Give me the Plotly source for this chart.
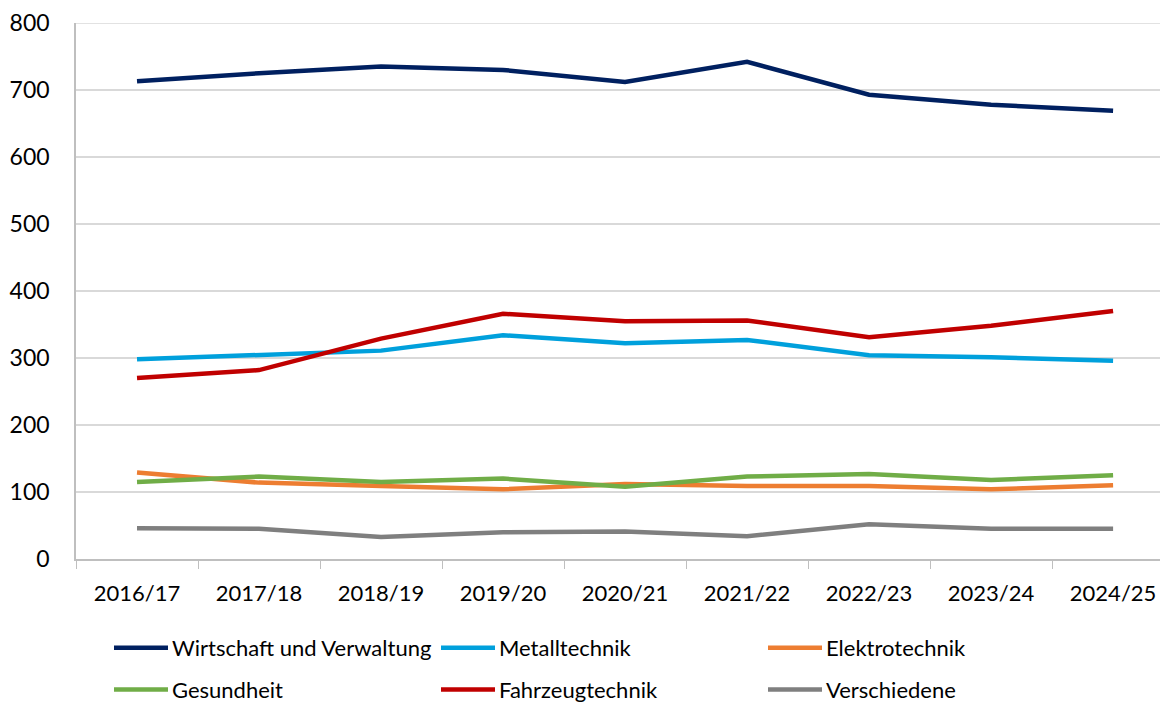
import plotly.graph_objects as go

years = ["2016/17", "2017/18", "2018/19", "2019/20", "2020/21", "2021/22", "2022/23", "2023/24", "2024/25"]

wirtschaft = [713, 725, 735, 730, 712, 742, 693, 678, 669]
metall = [298, 304, 311, 334, 322, 327, 304, 301, 296]
elektro = [129, 114, 109, 104, 112, 109, 109, 104, 110]
gesundheit = [115, 123, 115, 120, 108, 123, 127, 118, 125]
fahrzeug = [270, 282, 329, 366, 355, 356, 331, 348, 370]
verschiedene = [46, 45, 33, 40, 41, 34, 52, 45, 45]

series = [
    ("Wirtschaft und Verwaltung", wirtschaft, "#002060"),
    ("Metalltechnik", metall, "#00A0DC"),
    ("Elektrotechnik", elektro, "#ED7D31"),
    ("Gesundheit", gesundheit, "#70AD47"),
    ("Fahrzeugtechnik", fahrzeug, "#C00000"),
    ("Verschiedene", verschiedene, "#7F7F7F"),
]

FONT = "Lato"
OFF = 8  # page body margin
W, H = 1168 - OFF, 704 - OFF
L, T, B = 76 - OFF, 21 - OFF, 145
PW = W - L
PH = H - T - B
YMAX = 800

fig = go.Figure()
for name, vals, col in series:
    fig.add_trace(go.Scatter(x=years, y=vals, mode="lines", name=name,
                             line=dict(color=col, width=4.5), showlegend=False))

# manual legend (page pixel positions of the entries)
legend_pos = [(114, 648), (441, 648), (768, 648), (114, 690), (441, 690), (768, 690)]
shapes = [dict(type="line", xref="paper", yref="y", x0=0, x1=1, y0=YMAX, y1=YMAX,
               line=dict(color="#D9D9D9", width=1.5), layer="below")]
annotations = []
for (name, vals, col), (px, py) in zip(series, legend_pos):
    px -= OFF
    py -= OFF
    x0 = (px - L) / PW
    x1 = (px + 54 - L) / PW
    y = (H - B - py) / PH
    shapes.append(dict(type="line", xref="paper", yref="paper", x0=x0, x1=x1, y0=y, y1=y,
                       line=dict(color=col, width=4.5)))
    annotations.append(dict(xref="paper", yref="paper", x=(px + 56 - L) / PW, y=y,
                            text=name, showarrow=False, xanchor="left", yanchor="middle",
                            font=dict(family=FONT, size=22, color="#000000")))

fig.update_layout(
    width=W, height=H,
    margin=dict(l=L, r=0, t=T, b=B, pad=0),
    paper_bgcolor="white", plot_bgcolor="white",
    font=dict(family=FONT, size=22, color="#000000"),
    shapes=shapes, annotations=annotations,
)
fig.update_xaxes(type="category", range=[-0.5, 8.45], showgrid=False,
                 showline=True, linecolor="#BFBFBF", linewidth=1.5,
                 ticks="outside", tickson="boundaries", ticklen=8, tickcolor="#BFBFBF",
                 tickfont=dict(family=FONT, size=22), ticklabelstandoff=14)
fig.update_yaxes(range=[0, YMAX], dtick=100, showgrid=True, gridcolor="#D9D9D9", gridwidth=1.5,
                 showline=True, linecolor="#BFBFBF", linewidth=1.5, zeroline=False,
                 ticks="", tickfont=dict(family=FONT, size=23), ticklabelstandoff=20,
                 ticklabeloverflow="allow")

fig.write_html("out.html")
